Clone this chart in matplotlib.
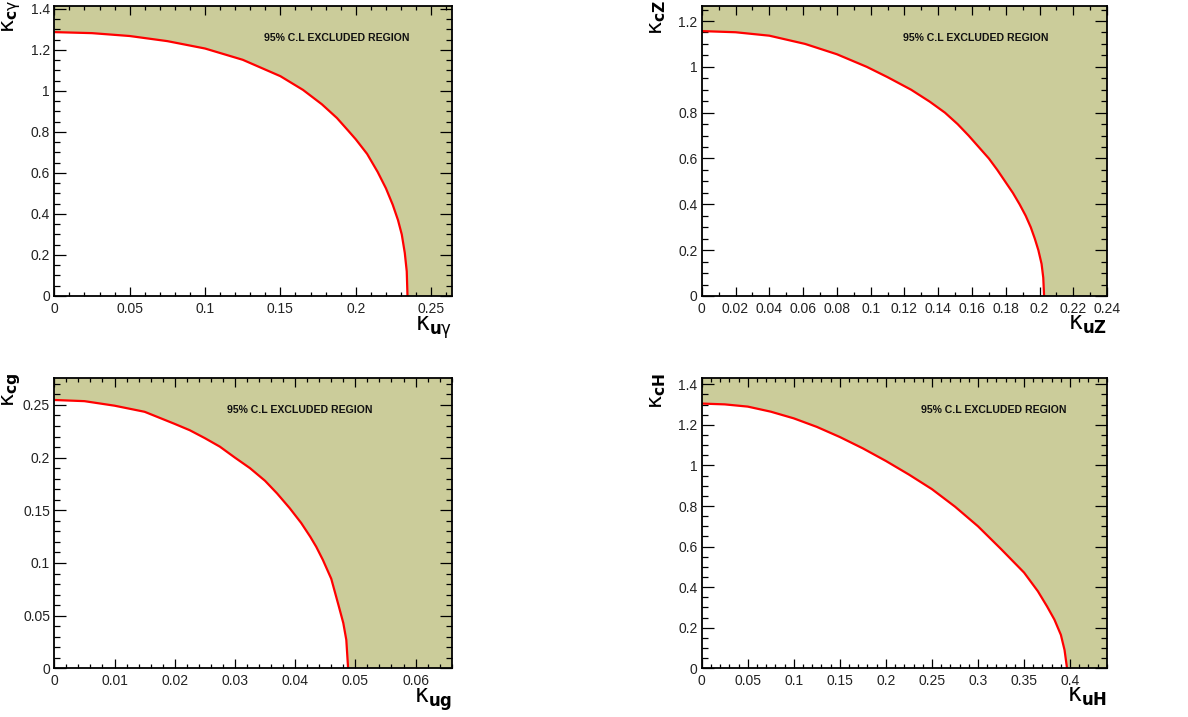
import matplotlib
matplotlib.use("Agg")
import matplotlib.pyplot as plt
from matplotlib.ticker import MultipleLocator, FuncFormatter
import numpy as np

plt.rcParams['font.family'] = ['Liberation Sans', 'DejaVu Sans']
plt.rcParams['mathtext.fontset'] = 'dejavusans'

# ---- data ----
# top-left: kappa_{u gamma} vs kappa_{c gamma}
ku_gamma = [0.0, 0.025, 0.05, 0.075, 0.1, 0.125, 0.15, 0.165, 0.1775, 0.1875,
            0.195, 0.2, 0.2075, 0.2145, 0.22, 0.2245, 0.228, 0.2305, 0.2325,
            0.2338, 0.2343]
kc_gamma = [1.287, 1.282, 1.268, 1.243, 1.207, 1.152, 1.072, 1.005, 0.935, 0.868,
            0.806, 0.764, 0.693, 0.605, 0.525, 0.445, 0.37, 0.30, 0.21,
            0.12, 0.0]

# top-right: kappa_{uZ} vs kappa_{cZ}
ku_Z = [0.0, 0.02, 0.04, 0.0612, 0.0800, 0.0977, 0.11, 0.124, 0.135, 0.144,
        0.1515, 0.158, 0.164, 0.170, 0.175, 0.1796, 0.1842, 0.1882, 0.1918,
        0.1948, 0.1972, 0.1993, 0.2012, 0.2022, 0.2027]
kc_Z = [1.156, 1.151, 1.136, 1.10, 1.055, 1.0, 0.955, 0.9, 0.848, 0.8,
        0.75, 0.7, 0.65, 0.6, 0.55, 0.5, 0.45, 0.4, 0.35,
        0.3, 0.25, 0.2, 0.14, 0.08, 0.0]

# bottom-left: kappa_{ug} vs kappa_{cg}
ku_g = [0.0, 0.005, 0.01, 0.015, 0.02, 0.0225, 0.025, 0.0275, 0.030, 0.0325,
        0.035, 0.037, 0.0391, 0.041, 0.0425, 0.0435, 0.0446, 0.046, 0.0472,
        0.0480, 0.0485, 0.0488]
kc_g = [0.2547, 0.2536, 0.2493, 0.2435, 0.232, 0.226, 0.2185, 0.2104, 0.2, 0.190,
        0.178, 0.166, 0.152, 0.138, 0.125, 0.1154, 0.103, 0.085, 0.06,
        0.043, 0.027, 0.0]

# bottom-right: kappa_{uH} vs kappa_{cH}
ku_H = [0.0, 0.025, 0.05, 0.075, 0.1, 0.125, 0.15, 0.175, 0.2, 0.225, 0.25,
        0.275, 0.3, 0.325, 0.35, 0.365, 0.375, 0.383, 0.39, 0.394, 0.3967]
kc_H = [1.305, 1.301, 1.290, 1.265, 1.232, 1.190, 1.140, 1.084, 1.022, 0.955,
        0.883, 0.797, 0.700, 0.588, 0.472, 0.380, 0.305, 0.240, 0.165, 0.09, 0.0]

panels = [
    dict(x=ku_gamma, y=kc_gamma, xlim=(0, 0.264), ylim=(0, 1.416),
         xmaj=0.05, xmin=0.01, ymaj=0.2, ymin=0.05,
         xlabel=r'$\mathrm{\kappa}_{\mathbf{u}\mathrm{\gamma}}$',
         ylabel=r'$\mathrm{\kappa}_{\mathbf{c}\mathrm{\gamma}}$',
         tx=0.71, rect=[0.0457, 0.5872, 0.3350, 0.4049]),
    dict(x=ku_Z, y=kc_Z, xlim=(0, 0.24), ylim=(0, 1.267),
         xmaj=0.02, xmin=0.01, ymaj=0.2, ymin=0.05,
         xlabel=r'$\mathrm{\kappa}_{\mathbf{uZ}}$', ylabel=r'$\mathrm{\kappa}_{\mathbf{cZ}}$',
         tx=0.676, rect=[0.5907, 0.5872, 0.3412, 0.4049]),
    dict(x=ku_g, y=kc_g, xlim=(0, 0.0661), ylim=(0, 0.2753),
         xmaj=0.01, xmin=0.002, ymaj=0.05, ymin=0.01,
         xlabel=r'$\mathrm{\kappa}_{\mathbf{ug}}$', ylabel=r'$\mathrm{\kappa}_{\mathbf{cg}}$',
         tx=0.617, rect=[0.0457, 0.0679, 0.3350, 0.4045]),
    dict(x=ku_H, y=kc_H, xlim=(0, 0.4402), ylim=(0, 1.4296),
         xmaj=0.05, xmin=0.01, ymaj=0.2, ymin=0.05,
         xlabel=r'$\mathrm{\kappa}_{\mathbf{uH}}$', ylabel=r'$\mathrm{\kappa}_{\mathbf{cH}}$',
         tx=0.721, rect=[0.5907, 0.0679, 0.3412, 0.4045]),
]

fill_color = '#CBCC9A'
fmt = FuncFormatter(lambda v, p: ('%g' % round(v, 6)))

fig = plt.figure(figsize=(11.88, 7.17), dpi=100)
for P in panels:
    ax = fig.add_axes(P['rect'])
    x = np.asarray(P['x'])
    y = np.asarray(P['y'])
    x0, x1 = P['xlim']
    y0, y1 = P['ylim']
    # excluded region: outside the curve
    px = np.concatenate([x, [x1, x1, x0]])
    py = np.concatenate([y, [y0, y1, y1]])
    ax.fill(px, py, color=fill_color, lw=0, zorder=1)
    ax.plot(x, y, color='#FF0000', lw=1.6, zorder=3, solid_capstyle='butt',
            solid_joinstyle='round')
    ax.set_xlim(x0, x1)
    ax.set_ylim(y0, y1)
    ax.xaxis.set_major_locator(MultipleLocator(P['xmaj']))
    ax.xaxis.set_minor_locator(MultipleLocator(P['xmin']))
    ax.yaxis.set_major_locator(MultipleLocator(P['ymaj']))
    ax.yaxis.set_minor_locator(MultipleLocator(P['ymin']))
    ax.xaxis.set_major_formatter(fmt)
    ax.yaxis.set_major_formatter(fmt)
    ax.tick_params(axis='both', which='both', direction='in', top=True, right=True,
                   width=0.9, colors='black', labelsize=10)
    ax.tick_params(axis='y', which='major', length=8.6, pad=3)
    ax.tick_params(axis='y', which='minor', length=4.3)
    ax.tick_params(axis='x', which='major', length=6.3, pad=4)
    ax.tick_params(axis='x', which='minor', length=3.1)
    for lab in ax.get_xticklabels() + ax.get_yticklabels():
        lab.set_color('#222222')
    for s in ax.spines.values():
        s.set_linewidth(1.3)
        s.set_zorder(5)
    ax.text(P['tx'], 0.889, '95% C.L EXCLUDED REGION', transform=ax.transAxes,
            ha='center', va='center', fontsize=7.6, fontweight='bold', zorder=4,
            color='#111111')
    ax.text(1.0, -0.062, P['xlabel'], transform=ax.transAxes, ha='right', va='top',
            fontsize=17)
    ax.text(-0.108, 1.02, P['ylabel'], transform=ax.transAxes, ha='center', va='top',
            rotation=90, fontsize=16)

fig.savefig('out.png', dpi=100)
